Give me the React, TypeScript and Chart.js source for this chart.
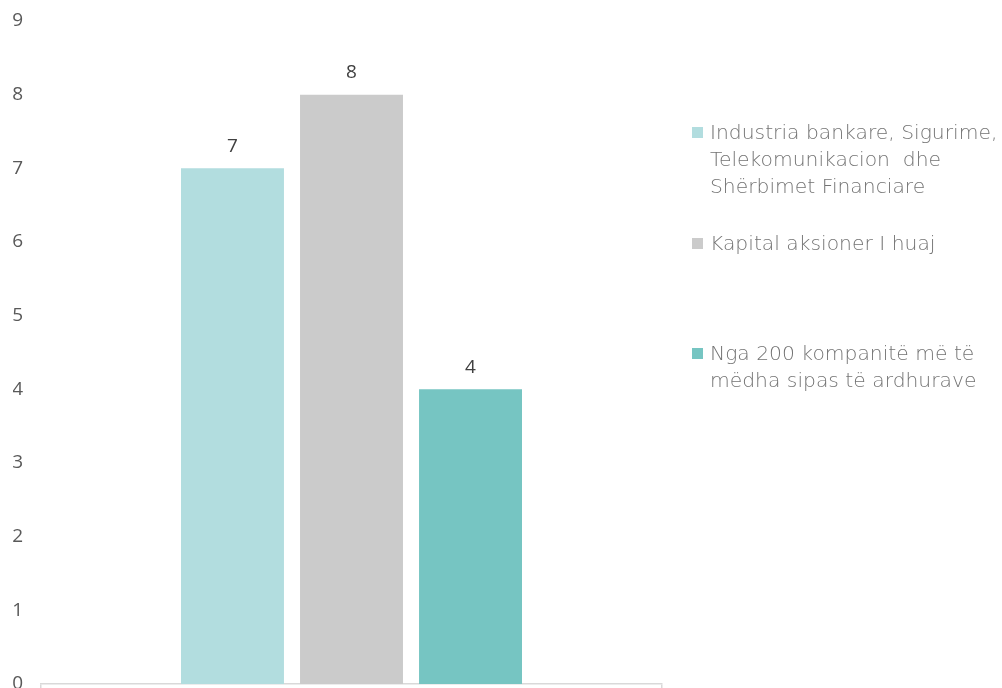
import React, { useEffect, useRef } from "react";
import { Chart, registerables } from "chart.js";

Chart.register(...registerables);

// Series shown as grouped bars in a single category
const seriesNames = [
  "Industria bankare, Sigurime,\nTelekomunikacion  dhe\nShërbimet Financiare",
  "Kapital aksioner I huaj",
  "Nga 200 kompanitë më të\nmëdha sipas të ardhurave",
];
const seriesValues = [7, 8, 4];
const seriesColors = ["#b2dddf", "#cbcbcb", "#76c5c2"];
const categories = [""];
const yTicks = [0, 1, 2, 3, 4, 5, 6, 7, 8, 9];

// vertical centre of the first line of each legend entry
const legendTops = [132, 243, 353];

const valueLabels = {
  id: "valueLabels",
  afterDatasetsDraw(chart: any) {
    const ctx = chart.ctx;
    ctx.save();
    ctx.font = "19px 'Open Sans', sans-serif";
    ctx.fillStyle = "#404040";
    ctx.textAlign = "center";
    ctx.textBaseline = "middle";
    chart.data.datasets.forEach((ds: any, i: number) => {
      const meta = chart.getDatasetMeta(i);
      meta.data.forEach((bar: any, j: number) => {
        ctx.fillText(String(ds.data[j]), bar.x, bar.y - 22);
      });
    });
    ctx.restore();
  },
};

export default function App() {
  const ref = useRef<HTMLCanvasElement>(null);

  useEffect(() => {
    document.body.style.margin = "0";
    document.body.style.overflow = "hidden";
    const chart = new Chart(ref.current!, {
      type: "bar",
      data: {
        labels: categories,
        datasets: seriesNames.map((name, i) => ({
          label: name,
          data: [seriesValues[i]],
          backgroundColor: seriesColors[i],
          borderWidth: 0,
        })),
      },
      options: {
        animation: false,
        responsive: false,
        maintainAspectRatio: false,
        datasets: { bar: { categoryPercentage: 0.575, barPercentage: 0.865 } },
        layout: { padding: { left: 13, right: 340, top: 21, bottom: 10 } },
        plugins: { legend: { display: false }, tooltip: { enabled: false } },
        scales: {
          x: {
            ticks: { display: false },
            grid: {
              offset: true,
              drawOnChartArea: false,
              tickLength: 6,
              color: "#d9d9d9",
              lineWidth: 1.5,
            },
            border: { color: "#d9d9d9", width: 1.5 },
          },
          y: {
            min: 0,
            max: 9,
            afterBuildTicks: (scale: any) => {
              scale.ticks = yTicks.map((v) => ({ value: v }));
            },
            afterFit: (scale: any) => {
              scale.width = 28;
              scale.paddingTop = 0;
              scale.paddingBottom = 0;
            },
            ticks: {
              padding: 18,
              color: "#595959",
              font: { family: "'Open Sans', sans-serif", size: 19 },
            },
            grid: { display: false, drawTicks: false },
            border: { display: false },
          },
        },
      },
      plugins: [valueLabels],
    });
    return () => chart.destroy();
  }, []);

  return (
    <div
      style={{
        position: "fixed",
        left: 0,
        top: 0,
        width: 1002,
        height: 688,
        overflow: "hidden",
        background: "#fff",
      }}
    >
      <canvas ref={ref} width={1002} height={700} style={{ display: "block" }} />
      {seriesNames.map((name, i) => (
        <div
          key={i}
          style={{
            position: "absolute",
            left: 692,
            top: legendTops[i] - 13.5,
            fontFamily: "'DejaVu Sans', sans-serif",
            fontWeight: 200,
            fontSize: 20.3,
            lineHeight: "27px",
            color: "#737373",
            whiteSpace: "pre",
          }}
        >
          {name.split("\n").map((line, k) => (
            <div key={k} style={{ position: "relative", paddingLeft: 18 }}>
              {k === 0 && (
                <span
                  style={{
                    position: "absolute",
                    left: 0,
                    top: 8,
                    width: 11,
                    height: 11,
                    background: seriesColors[i],
                  }}
                />
              )}
              {line}
            </div>
          ))}
        </div>
      ))}
    </div>
  );
}
